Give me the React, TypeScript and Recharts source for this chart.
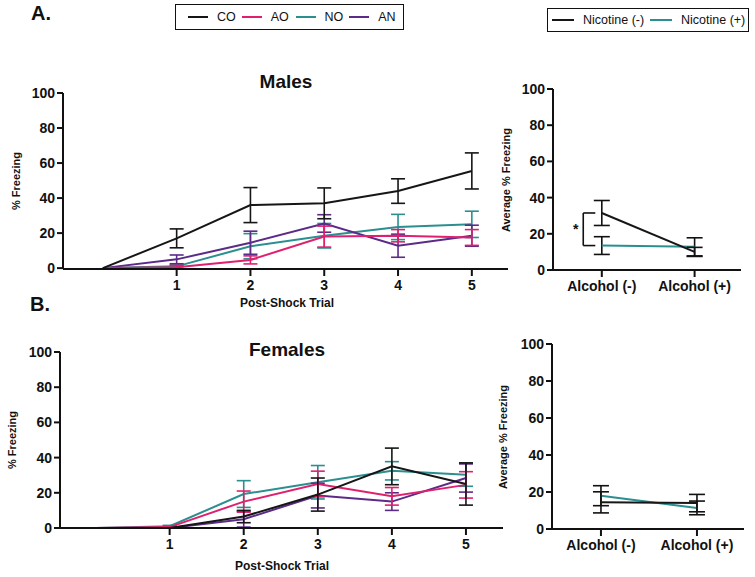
import React from 'react';
import { LineChart, Line, XAxis, YAxis, ErrorBar, ReferenceLine, ReferenceDot } from 'recharts';

// post-shock trials (0 = baseline)
const trials = [0, 1, 2, 3, 4, 5];
const trialTicks = [1, 2, 3, 4, 5];
const yTicks = [0, 20, 40, 60, 80, 100];
const groups = ['NO', 'AN', 'AO', 'CO'];
const legendGroups = ['CO', 'AO', 'NO', 'AN'];

// Males, % freezing (mean, sem)
const maleCO = [0, 17, 36, 37, 44, 55.5];
const maleCOErr = [0, 5.4, 10, 8.8, 7, 10.3];
const maleAO = [0, 0.5, 4.7, 18, 18.5, 17.5];
const maleAOErr = [0, 1, 2.3, 6, 3.5, 4.5];
const maleNO = [0, 1, 12.5, 18.5, 23.5, 25];
const maleNOErr = [0, 1, 7.2, 7, 7.2, 7.5];
const maleAN = [0, 5, 14.5, 25.5, 12.8, 18.5];
const maleANErr = [0, 2.5, 6.6, 5, 6.6, 6];

// Females, % freezing (mean, sem)
const femaleCO = [0, 0, 6.5, 19, 35, 25];
const femaleCOErr = [0, 0, 3.5, 9.4, 10.4, 12];
const femaleAO = [0, 0.5, 15, 25, 18, 24.5];
const femaleAOErr = [0, 0.5, 6, 7.3, 5, 7.5];
const femaleNO = [0, 1, 19.3, 26, 32.5, 30.3];
const femaleNOErr = [0, 0.5, 7.6, 9.5, 5.2, 6.6];
const femaleAN = [0, 0, 5, 18.4, 15, 28.4];
const femaleANErr = [0, 0, 4.5, 7, 5, 8];

// Average % freezing by alcohol group
const alcoholGroups = ['Alcohol (-)', 'Alcohol (+)'];
const maleNicMinus = [31.5, 10];
const maleNicMinusErr = [6.9, 2.5];
const maleNicPlus = [13.5, 12.8];
const maleNicPlusErr = [4.9, 5];
const femaleNicMinus = [14.4, 14];
const femaleNicMinusErr = [5.7, 4.7];
const femaleNicPlus = [18, 11.4];
const femaleNicPlusErr = [5.4, 3.7];

const colors: Record<string, string> = {
  CO: '#161616',
  AO: '#e0206e',
  NO: '#2b8f8f',
  AN: '#5c2a87',
};
const nicColors = { minus: '#161616', plus: '#2b8f8f' };
const ink = '#111';
const font = '"Liberation Sans", Arial, Helvetica, sans-serif';

function buildTrialData(co: number[], coE: number[], ao: number[], aoE: number[], no: number[], noE: number[], an: number[], anE: number[]) {
  return trials.map((t, i) => ({
    trial: t,
    CO: co[i], COe: coE[i],
    AO: ao[i], AOe: aoE[i],
    NO: no[i], NOe: noE[i],
    AN: an[i], ANe: anE[i],
  }));
}

const maleData = buildTrialData(maleCO, maleCOErr, maleAO, maleAOErr, maleNO, maleNOErr, maleAN, maleANErr);
const femaleData = buildTrialData(femaleCO, femaleCOErr, femaleAO, femaleAOErr, femaleNO, femaleNOErr, femaleAN, femaleANErr);

const buildAvgData = (m: number[], mE: number[], p: number[], pE: number[]) =>
  alcoholGroups.map((_, i) => ({ x: i, minus: m[i], minusE: mE[i], plus: p[i], plusE: pE[i] }));

const maleAvg = buildAvgData(maleNicMinus, maleNicMinusErr, maleNicPlus, maleNicPlusErr);
const femaleAvg = buildAvgData(femaleNicMinus, femaleNicMinusErr, femaleNicPlus, femaleNicPlusErr);

const axisLine = { stroke: ink, strokeWidth: 2 };
const tickStyle = { fill: ink, fontSize: 14, fontWeight: 700 };

interface PanelProps {
  left: number;
  top: number;
  width: number;
  height: number;
  margin: { top: number; right: number; bottom: number; left: number };
  yWidth: number;
  xDomain: [number, number];
}

function TrialChart({ data, ...p }: PanelProps & { data: typeof maleData }) {
  return (
    <div style={{ position: 'absolute', left: p.left, top: p.top }}>
      <LineChart width={p.width} height={p.height} data={data} margin={p.margin}>
        <XAxis
          dataKey="trial"
          type="number"
          domain={p.xDomain}
          allowDataOverflow
          ticks={trialTicks}
          height={30}
          axisLine={axisLine}
          tickLine={axisLine}
          tickSize={7}
          tickMargin={4}
          tick={tickStyle}
        />
        <YAxis
          type="number"
          domain={[0, 100]}
          ticks={yTicks}
          width={p.yWidth}
          axisLine={axisLine}
          tickLine={axisLine}
          tickSize={6}
          tickMargin={2}
          tick={tickStyle}
          interval={0}
        />
        {groups.map((g) => (
          <Line
            key={g}
            dataKey={g}
            stroke={colors[g]}
            strokeWidth={2}
            dot={false}
            isAnimationActive={false}
          >
            <ErrorBar dataKey={g + 'e'} width={7} stroke={colors[g]} strokeWidth={1.6} />
          </Line>
        ))}
      </LineChart>
    </div>
  );
}

function AvgChart({ data, bracket, ...p }: PanelProps & { data: typeof maleAvg; bracket?: boolean }) {
  const top = data[0].minus;
  const bottom = data[0].plus;
  return (
    <div style={{ position: 'absolute', left: p.left, top: p.top }}>
      <LineChart width={p.width} height={p.height} data={data} margin={p.margin}>
        <XAxis
          dataKey="x"
          type="number"
          domain={p.xDomain}
          allowDataOverflow
          ticks={[0, 1]}
          tickFormatter={(v: number) => alcoholGroups[v]}
          height={30}
          axisLine={axisLine}
          tickLine={axisLine}
          tickSize={7}
          tickMargin={4}
          tick={tickStyle}
        />
        <YAxis
          type="number"
          domain={[0, 100]}
          ticks={yTicks}
          width={p.yWidth}
          axisLine={axisLine}
          tickLine={axisLine}
          tickSize={6}
          tickMargin={2}
          tick={tickStyle}
          interval={0}
        />
        <Line dataKey="plus" stroke={nicColors.plus} strokeWidth={2} dot={false} isAnimationActive={false}>
          <ErrorBar dataKey="plusE" width={8} stroke={ink} strokeWidth={1.6} />
        </Line>
        <Line dataKey="minus" stroke={nicColors.minus} strokeWidth={2} dot={false} isAnimationActive={false}>
          <ErrorBar dataKey="minusE" width={8} stroke={ink} strokeWidth={1.6} />
        </Line>
        {bracket && (
          <ReferenceLine segment={[{ x: -0.2, y: top }, { x: -0.2, y: bottom }]} stroke={ink} strokeWidth={1.6} />
        )}
        {bracket && (
          <ReferenceLine segment={[{ x: -0.2, y: top }, { x: -0.07, y: top }]} stroke={ink} strokeWidth={1.6} />
        )}
        {bracket && (
          <ReferenceLine segment={[{ x: -0.2, y: bottom }, { x: -0.07, y: bottom }]} stroke={ink} strokeWidth={1.6} />
        )}
        {bracket && (
          <ReferenceDot
            x={-0.28}
            y={(top + bottom) / 2}
            r={0}
            fill="none"
            stroke="none"
            label={{ value: '*', position: 'center', fill: ink, fontSize: 14, fontWeight: 700 }}
          />
        )}
      </LineChart>
    </div>
  );
}

const abs = (left: number, top: number, extra: React.CSSProperties = {}): React.CSSProperties => ({
  position: 'absolute',
  left,
  top,
  whiteSpace: 'nowrap',
  color: ink,
  ...extra,
});

function RotLabel({ x, y, text }: { x: number; y: number; text: string }) {
  return (
    <div
      style={abs(x, y, {
        transform: 'translate(-50%, -50%) rotate(-90deg)',
        fontSize: 11,
        fontWeight: 700,
        lineHeight: '12px',
      })}
    >
      {text}
    </div>
  );
}

function Swatch({ color, w }: { color: string; w: number }) {
  return <span style={{ display: 'inline-block', width: w, height: 2, background: color, marginRight: 9 }} />;
}

export default function App() {
  return (
    <div style={{ position: 'absolute', left: 0, top: 0, width: 755, height: 577, background: '#fff', fontFamily: font, overflow: 'hidden' }}>
      <div style={abs(31, 1, { fontSize: 20, fontWeight: 700, lineHeight: '24px' })}>A.</div>
      <div style={abs(30, 292, { fontSize: 20, fontWeight: 700, lineHeight: '24px' })}>B.</div>

      {/* group legend */}
      <div
        style={abs(175, 4, {
          width: 229,
          height: 26,
          border: '1.5px solid #111',
          boxSizing: 'border-box',
          display: 'flex',
          alignItems: 'center',
          paddingLeft: 12,
          fontSize: 12.5,
        })}
      >
        {legendGroups.map((g) => (
          <span key={g} style={{ display: 'inline-flex', alignItems: 'center', width: 55 }}>
            <Swatch color={colors[g]} w={20} />
            {g}
          </span>
        ))}
      </div>

      {/* nicotine legend */}
      <div
        style={abs(547, 8, {
          width: 202,
          height: 24,
          border: '1.5px solid #111',
          boxSizing: 'border-box',
          display: 'flex',
          alignItems: 'center',
          paddingLeft: 4,
          fontSize: 12.5,
        })}
      >
        <span style={{ display: 'inline-flex', alignItems: 'center', width: 98 }}>
          <Swatch color={nicColors.minus} w={22} />
          Nicotine (-)
        </span>
        <span style={{ display: 'inline-flex', alignItems: 'center' }}>
          <Swatch color={nicColors.plus} w={22} />
          Nicotine (+)
        </span>
      </div>

      <TrialChart
        data={maleData}
        left={0}
        top={60}
        width={520}
        height={250}
        margin={{ top: 33, right: 12, bottom: 11, left: 8 }}
        yWidth={55}
        xDomain={[-0.54, 5.49]}
      />
      <AvgChart
        data={maleAvg}
        bracket
        left={500}
        top={60}
        width={255}
        height={250}
        margin={{ top: 29, right: 14, bottom: 10, left: 13 }}
        yWidth={40}
        xDomain={[-0.526, 1.5]}
      />
      <TrialChart
        data={femaleData}
        left={0}
        top={320}
        width={520}
        height={257}
        margin={{ top: 32, right: 17, bottom: 19, left: 8 }}
        yWidth={52}
        xDomain={[-0.48, 5.5]}
      />
      <AvgChart
        data={femaleAvg}
        left={500}
        top={320}
        width={255}
        height={257}
        margin={{ top: 24, right: 11, bottom: 18, left: 12 }}
        yWidth={40}
        xDomain={[-0.51, 1.49]}
      />

      <div style={abs(286, 82, { transform: 'translate(-50%, -50%)', fontSize: 19, fontWeight: 700 })}>Males</div>
      <div style={abs(287, 350, { transform: 'translate(-50%, -50%)', fontSize: 19, fontWeight: 700 })}>Females</div>
      <div style={abs(287, 303, { transform: 'translate(-50%, -50%)', fontSize: 12, fontWeight: 700 })}>Post-Shock Trial</div>
      <div style={abs(282, 566, { transform: 'translate(-50%, -50%)', fontSize: 12, fontWeight: 700 })}>Post-Shock Trial</div>

      <RotLabel x={16} y={181} text="% Freezing" />
      <RotLabel x={12} y={440} text="% Freezing" />
      <RotLabel x={506} y={180} text="Average % Freezing" />
      <RotLabel x={503} y={437} text="Average % Freezing" />
    </div>
  );
}
